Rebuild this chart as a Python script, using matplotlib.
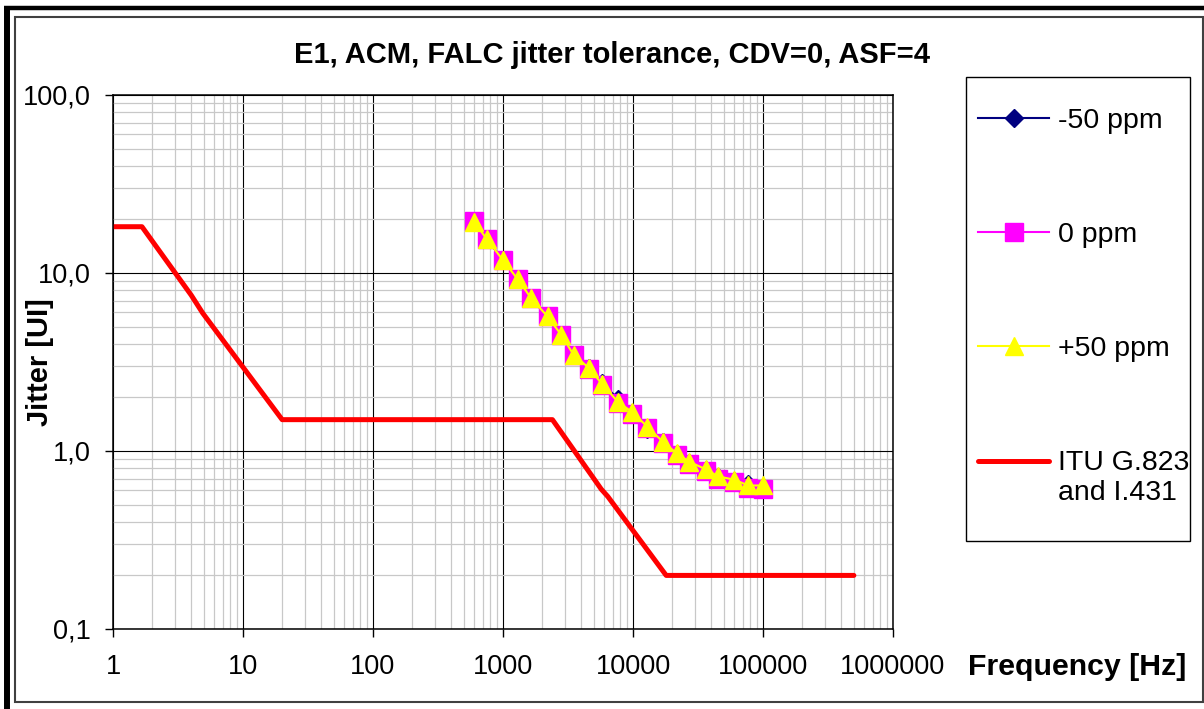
import numpy as np
import matplotlib.pyplot as plt
from matplotlib.lines import Line2D
from matplotlib.patches import Rectangle
from matplotlib.ticker import FixedLocator, FixedFormatter, LogLocator, NullFormatter
from matplotlib.legend_handler import HandlerLine2D

plt.rcParams['font.family'] = ['Liberation Sans', 'DejaVu Sans']

# measured jitter tolerance (Hz / UI)
freq = [600, 750, 1000, 1300, 1650, 2200, 2800, 3500, 4600, 5800, 7700,
        9800, 12900, 16900, 21700, 27100, 36200, 45300, 60100, 77100, 100000]
jit_m50 = [19.4, 15.5, 11.8, 9.2, 7.2, 5.7, 4.5, 3.46, 2.92, 2.40, 1.96,
           1.64, 1.33, 1.12, 0.96, 0.86, 0.78, 0.71, 0.68, 0.655, 0.63]
jit_0 = [19.5, 15.5, 11.8, 9.2, 7.2, 5.7, 4.5, 3.44, 2.90, 2.36, 1.86,
         1.62, 1.35, 1.11, 0.95, 0.85, 0.77, 0.70, 0.67, 0.62, 0.61]
jit_p50 = [19.4, 15.5, 11.8, 9.2, 7.2, 5.7, 4.5, 3.46, 2.92, 2.37, 1.88,
           1.66, 1.37, 1.13, 0.97, 0.87, 0.79, 0.72, 0.69, 0.64, 0.64]

# ITU G.823 / I.431 mask
itu_f = [1, 1.67, 4, 4.9, 20, 2400, 5700, 6400, 18000, 500000]
itu_j = [18.2, 18.2, 7.5, 5.95, 1.5, 1.5, 0.61, 0.555, 0.2, 0.2]

xticks = [1, 10, 100, 1000, 10000, 100000, 1000000]
xtick_labels = ['1', '10', '100', '1000', '10000', '100000', '1000000']
yticks = [0.1, 1, 10, 100]
ytick_labels = ['0,1', '1,0', '10,0', '100,0']

W, H = 1204, 709
FS = 19.5


class HandlerTopLine(HandlerLine2D):
    # put the handle next to the first line of a two-line label
    def create_artists(self, legend, orig_handle, xdescent, ydescent,
                       width, height, fontsize, trans):
        arts = super().create_artists(legend, orig_handle, xdescent, ydescent,
                                      width, height, fontsize, trans)
        for a in arts:
            a.set_ydata(np.asarray(a.get_ydata()) + 0.6 * fontsize)
        return arts


fig = plt.figure(figsize=(W / 100, H / 100), dpi=100)
ax = fig.add_axes([113 / W, 1 - 629 / H, (893 - 113) / W, (629 - 95) / H])

ax.plot(freq, jit_m50, color='#000080', marker='D', ms=8.7, mec='#000080',
        lw=1.5, label='-50 ppm')
ax.plot(freq, jit_0, color='#FF00FF', marker='s', ms=13, mec='#FF00FF',
        lw=1.5, label='0 ppm')
ax.plot(freq, jit_p50, color='#FFFF00', marker='^', ms=13, mec='#FFFF00',
        lw=1.5, label='+50 ppm')
itu_line, = ax.plot(itu_f, itu_j, color='#FF0000', lw=3.6,
                    solid_capstyle='round', solid_joinstyle='round',
                    label='ITU G.823\nand I.431')

ax.set_xscale('log')
ax.set_yscale('log')
ax.set_xlim(1, 1e6)
ax.set_ylim(0.1, 100)

ax.xaxis.set_major_locator(FixedLocator(xticks))
ax.xaxis.set_major_formatter(FixedFormatter(xtick_labels))
ax.yaxis.set_major_locator(FixedLocator(yticks))
ax.yaxis.set_major_formatter(FixedFormatter(ytick_labels))
ax.xaxis.set_minor_locator(LogLocator(base=10, subs=np.arange(2, 10), numticks=100))
ax.yaxis.set_minor_locator(LogLocator(base=10, subs=np.arange(2, 10), numticks=100))
ax.xaxis.set_minor_formatter(NullFormatter())
ax.yaxis.set_minor_formatter(NullFormatter())

ax.set_axisbelow(True)
ax.grid(which='minor', color='#c8c8c8', lw=0.9)
ax.grid(which='major', color='black', lw=0.8)
ax.tick_params(which='major', direction='out', length=6, width=1,
               labelsize=FS, colors='black')
ax.tick_params(axis='x', which='major', pad=12)
ax.tick_params(axis='y', which='major', pad=10)
ax.tick_params(which='minor', length=0)
for s in ax.spines.values():
    s.set_color('black')
    s.set_linewidth(1.1)

fig.text(612 / W, 1 - 55 / H, 'E1, ACM, FALC jitter tolerance, CDV=0, ASF=4',
         ha='center', va='center', fontsize=21, fontweight='bold')
fig.text(40 / W, 1 - 362 / H, 'Jitter [UI]', rotation=90, ha='center',
         va='center', fontsize=21, fontweight='bold')
fig.text(968 / W, 1 - 667 / H, 'Frequency [Hz]', ha='left', va='center',
         fontsize=21.8, fontweight='bold')

leg = fig.legend(loc='upper left', bbox_to_anchor=(978 / W, 1 - 108 / H),
                 borderaxespad=0, fontsize=20.5, frameon=False,
                 handlelength=2.5, handletextpad=0.3,
                 labelspacing=3.09, borderpad=0,
                 handler_map={itu_line: HandlerTopLine()})

# legend box
fig.patches.append(Rectangle((966 / W, 1 - 541 / H), (1190 - 966) / W, (541 - 77) / H,
                             transform=fig.transFigure, fill=False,
                             edgecolor='black', lw=1.0))

# chart area borders
fig.patches.append(Rectangle((15 / W, 1 - 702 / H), (1203 - 15) / W, (702 - 17) / H,
                             transform=fig.transFigure, fill=False,
                             edgecolor='#404040', lw=1.5))
fig.lines.append(Line2D([4 / W, 1], [1 - 8 / H, 1 - 8 / H], transform=fig.transFigure,
                        color='black', lw=3.2, solid_capstyle='butt'))
fig.lines.append(Line2D([7 / W, 7 / W], [0, 1 - 6 / H], transform=fig.transFigure,
                        color='black', lw=4.3, solid_capstyle='butt'))

fig.savefig('out.png', dpi=100)
